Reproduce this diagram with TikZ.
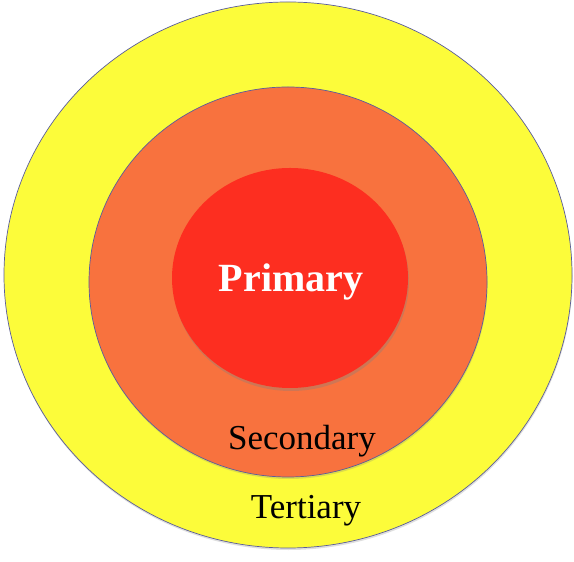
\documentclass[tikz,border=0pt]{standalone}
\usepackage{fontspec}
\setmainfont{Liberation Serif}
\usetikzlibrary{shapes.geometric,shadows}
\definecolor{ringyellow}{HTML}{FCFC3A}
\definecolor{ringorange}{HTML}{F8723E}
\definecolor{ringred}{HTML}{FD2E20}
\definecolor{ringline}{HTML}{5A5C9C}

\begin{document}
\begin{tikzpicture}[x=1bp,y=1bp,
  ring/.style={ellipse,draw=ringline,line width=0.7pt,inner sep=0pt,
    drop shadow={shadow xshift=0.5bp,shadow yshift=-2bp,opacity=0.25}},
  lbl/.style={anchor=base,font=\fontsize{35bp}{42bp}\selectfont}]
  \useasboundingbox (0,0) rectangle (574,562);
  \node[ring,fill=ringyellow,minimum width=568bp,minimum height=546bp] (tertiary) at (288,287) {};
  \node[ring,fill=ringorange,minimum width=398bp,minimum height=390bp] (secondary) at (288,280) {};
  \node[ellipse,fill=ringred,inner sep=0pt,minimum width=236bp,minimum height=220bp,
    drop shadow={shadow xshift=1bp,shadow yshift=-3bp,opacity=0.35}] (primary) at (290,284) {};
  \node[lbl,text=white,font=\fontsize{40bp}{46bp}\selectfont\bfseries] (primarytext) at (291,270) {Primary};
  \node[lbl] (secondarytext) at (302,112) {Secondary};
  \node[lbl] (tertiarytext) at (306,43) {Tertiary};
\end{tikzpicture}
\end{document}
